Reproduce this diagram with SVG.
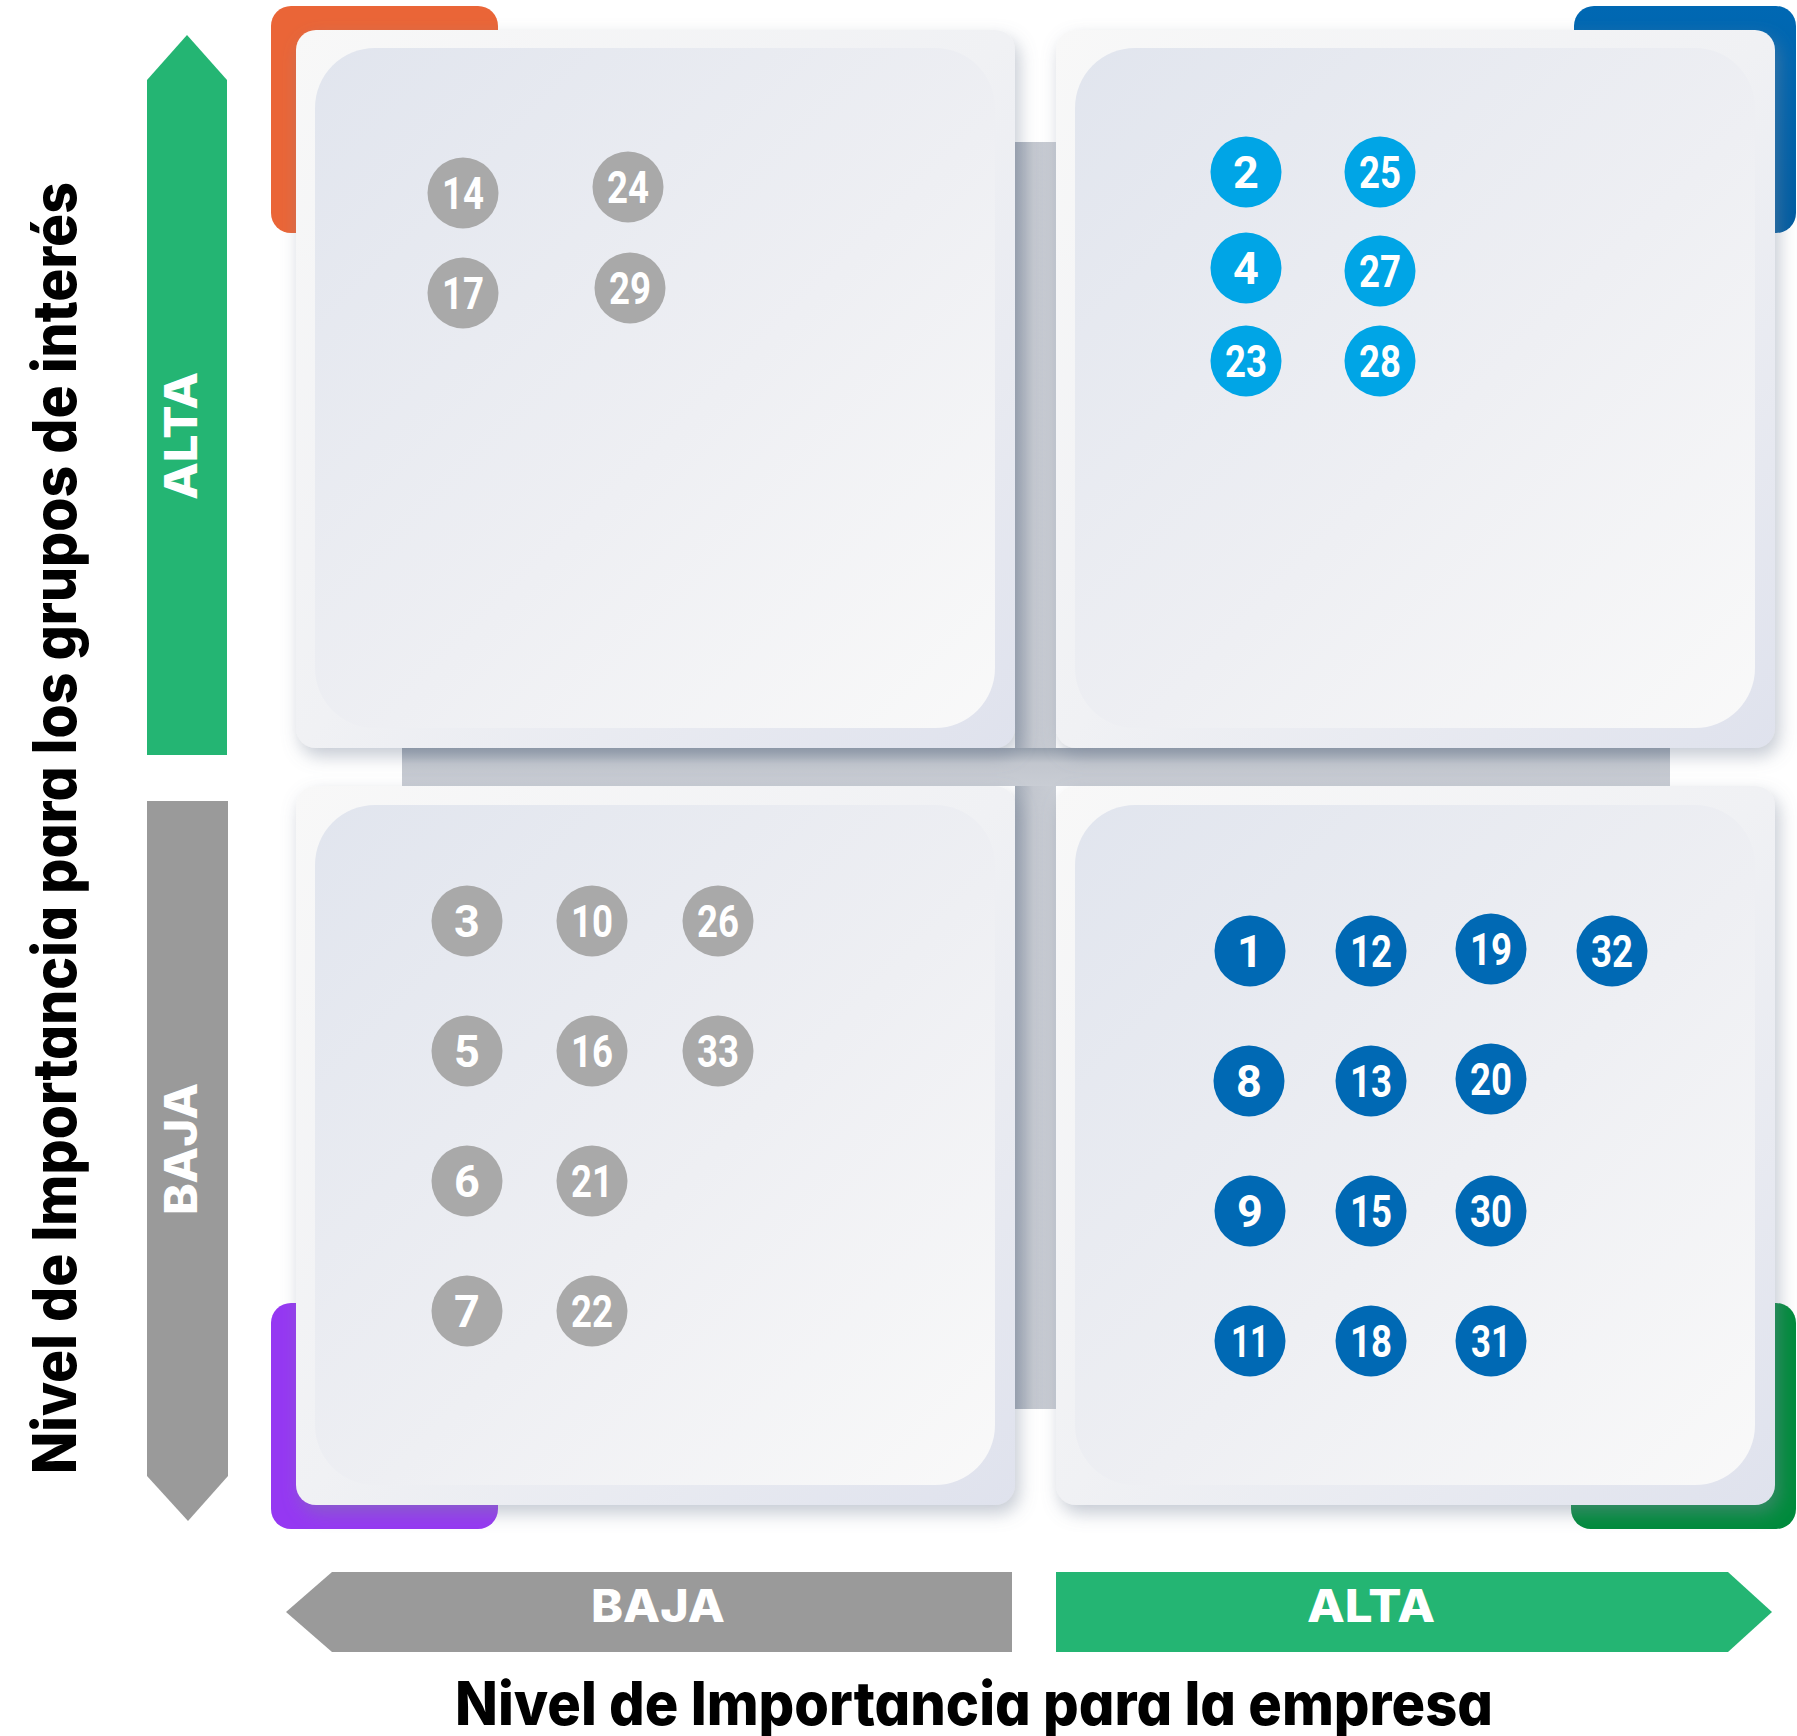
<svg xmlns="http://www.w3.org/2000/svg" width="1797" height="1736" viewBox="0 0 1797 1736">
<defs>
<style>
.card{fill:url(#cardG);filter:url(#sh)}
.panel{fill:url(#panelG)}
.num{font-family:Roboto,"Liberation Sans",sans-serif;font-weight:700;font-size:45px;fill:#fff;text-anchor:middle}
.g circle{fill:#a9a9a9}
.lb circle{fill:#00a5e6}
.db circle{fill:#0069b4}
.lvl{font-family:Inter,"Liberation Sans",sans-serif;font-weight:800;font-size:45px;fill:#fff;text-anchor:middle}
.title{font-family:Inter,"Liberation Sans",sans-serif;font-weight:800;font-size:60px;fill:#000;font-feature-settings:"cv11"}
</style>
<linearGradient id="cardG" x1="0" y1="0" x2="1" y2="1">
<stop offset="0" stop-color="#f8f8f8"/><stop offset="0.5" stop-color="#f0f1f4"/><stop offset="1" stop-color="#dfe2ed"/>
</linearGradient>
<linearGradient id="panelG" x1="0" y1="0" x2="1" y2="1">
<stop offset="0" stop-color="#e1e5ee"/><stop offset="0.55" stop-color="#eeeff3"/><stop offset="1" stop-color="#f9f9f9"/>
</linearGradient>
<linearGradient id="vbar" x1="0" y1="0" x2="1" y2="0">
<stop offset="0" stop-color="#a2aab6"/><stop offset="0.45" stop-color="#c3c7cf"/><stop offset="1" stop-color="#c9cdd4"/>
</linearGradient>
<linearGradient id="hbar" x1="0" y1="0" x2="0" y2="1">
<stop offset="0" stop-color="#97a0ad"/><stop offset="0.4" stop-color="#c2c6ce"/><stop offset="1" stop-color="#c9cdd4"/>
</linearGradient>
<linearGradient id="blueG" x1="0" y1="0" x2="0" y2="1">
<stop offset="0" stop-color="#0068b3"/><stop offset="1" stop-color="#005ba0"/>
</linearGradient>
<filter id="sh" x="-10%" y="-10%" width="125%" height="125%">
<feDropShadow dx="4" dy="8" stdDeviation="9" flood-color="#7d879c" flood-opacity="0.45"/>
</filter>
</defs>
<rect width="1797" height="1736" fill="#fff"/>

<g id="brackets">
<rect x="271" y="6" width="227" height="227" rx="20" fill="#ea6537"/>
<rect x="1574" y="6" width="222" height="227" rx="20" fill="url(#blueG)"/>
<rect x="271" y="1303" width="227" height="226" rx="20" fill="#9538f2"/>
<rect x="1571" y="1303" width="225" height="226" rx="20" fill="#008a3c"/>
</g>

<g id="bars">
<rect x="1015" y="142" width="41" height="1267" fill="url(#vbar)"/>
<rect x="402" y="748" width="1268" height="38" fill="url(#hbar)"/>
</g>

<g id="quadrant-tl">
<rect class="card" x="296" y="30" width="719" height="718" rx="20"/>
<rect class="panel" x="315" y="48" width="680" height="680" rx="60"/>
</g>
<g id="quadrant-tr">
<rect class="card" x="1056" y="30" width="719" height="718" rx="20"/>
<rect class="panel" x="1075" y="48" width="680" height="680" rx="60"/>
</g>
<g id="quadrant-bl">
<rect class="card" x="296" y="786" width="719" height="719" rx="20"/>
<rect class="panel" x="315" y="805" width="680" height="680" rx="60"/>
</g>
<g id="quadrant-br">
<rect class="card" x="1056" y="786" width="719" height="719" rx="20"/>
<rect class="panel" x="1075" y="805" width="680" height="680" rx="60"/>
</g>

<g id="nodes-tl" class="g">
<g id="n14"><circle cx="463" cy="193" r="35.5"/><text class="num" x="463" y="209" textLength="42" lengthAdjust="spacingAndGlyphs">14</text></g>
<g id="n17"><circle cx="463" cy="293" r="35.5"/><text class="num" x="463" y="309" textLength="42" lengthAdjust="spacingAndGlyphs">17</text></g>
<g id="n24"><circle cx="628" cy="187" r="35.5"/><text class="num" x="628" y="203" textLength="42" lengthAdjust="spacingAndGlyphs">24</text></g>
<g id="n29"><circle cx="630" cy="288" r="35.5"/><text class="num" x="630" y="304" textLength="42" lengthAdjust="spacingAndGlyphs">29</text></g>
</g>

<g id="nodes-tr" class="lb">
<g id="n2"><circle cx="1246" cy="172" r="35.5"/><text class="num" x="1246" y="188">2</text></g>
<g id="n25"><circle cx="1380" cy="172" r="35.5"/><text class="num" x="1380" y="188" textLength="42" lengthAdjust="spacingAndGlyphs">25</text></g>
<g id="n4"><circle cx="1246" cy="268" r="35.5"/><text class="num" x="1246" y="284">4</text></g>
<g id="n27"><circle cx="1380" cy="271" r="35.5"/><text class="num" x="1380" y="287" textLength="42" lengthAdjust="spacingAndGlyphs">27</text></g>
<g id="n23"><circle cx="1246" cy="361" r="35.5"/><text class="num" x="1246" y="377" textLength="42" lengthAdjust="spacingAndGlyphs">23</text></g>
<g id="n28"><circle cx="1380" cy="361" r="35.5"/><text class="num" x="1380" y="377" textLength="42" lengthAdjust="spacingAndGlyphs">28</text></g>
</g>

<g id="nodes-bl" class="g">
<g id="n3"><circle cx="467" cy="921" r="35.5"/><text class="num" x="467" y="937">3</text></g>
<g id="n10"><circle cx="592" cy="921" r="35.5"/><text class="num" x="592" y="937" textLength="42" lengthAdjust="spacingAndGlyphs">10</text></g>
<g id="n26"><circle cx="718" cy="921" r="35.5"/><text class="num" x="718" y="937" textLength="42" lengthAdjust="spacingAndGlyphs">26</text></g>
<g id="n5"><circle cx="467" cy="1051" r="35.5"/><text class="num" x="467" y="1067">5</text></g>
<g id="n16"><circle cx="592" cy="1051" r="35.5"/><text class="num" x="592" y="1067" textLength="42" lengthAdjust="spacingAndGlyphs">16</text></g>
<g id="n33"><circle cx="718" cy="1051" r="35.5"/><text class="num" x="718" y="1067" textLength="42" lengthAdjust="spacingAndGlyphs">33</text></g>
<g id="n6"><circle cx="467" cy="1181" r="35.5"/><text class="num" x="467" y="1197">6</text></g>
<g id="n21"><circle cx="592" cy="1181" r="35.5"/><text class="num" x="592" y="1197" textLength="42" lengthAdjust="spacingAndGlyphs">21</text></g>
<g id="n7"><circle cx="467" cy="1311" r="35.5"/><text class="num" x="467" y="1327">7</text></g>
<g id="n22"><circle cx="592" cy="1311" r="35.5"/><text class="num" x="592" y="1327" textLength="42" lengthAdjust="spacingAndGlyphs">22</text></g>
</g>

<g id="nodes-br" class="db">
<g id="n1"><circle cx="1250" cy="951" r="35.5"/><text class="num" x="1250" y="967">1</text></g>
<g id="n12"><circle cx="1371" cy="951" r="35.5"/><text class="num" x="1371" y="967" textLength="42" lengthAdjust="spacingAndGlyphs">12</text></g>
<g id="n19"><circle cx="1491" cy="949" r="35.5"/><text class="num" x="1491" y="965" textLength="42" lengthAdjust="spacingAndGlyphs">19</text></g>
<g id="n32"><circle cx="1612" cy="951" r="35.5"/><text class="num" x="1612" y="967" textLength="42" lengthAdjust="spacingAndGlyphs">32</text></g>
<g id="n8"><circle cx="1249" cy="1081" r="35.5"/><text class="num" x="1249" y="1097">8</text></g>
<g id="n13"><circle cx="1371" cy="1081" r="35.5"/><text class="num" x="1371" y="1097" textLength="42" lengthAdjust="spacingAndGlyphs">13</text></g>
<g id="n20"><circle cx="1491" cy="1079" r="35.5"/><text class="num" x="1491" y="1095" textLength="42" lengthAdjust="spacingAndGlyphs">20</text></g>
<g id="n9"><circle cx="1250" cy="1211" r="35.5"/><text class="num" x="1250" y="1227">9</text></g>
<g id="n15"><circle cx="1371" cy="1211" r="35.5"/><text class="num" x="1371" y="1227" textLength="42" lengthAdjust="spacingAndGlyphs">15</text></g>
<g id="n30"><circle cx="1491" cy="1211" r="35.5"/><text class="num" x="1491" y="1227" textLength="42" lengthAdjust="spacingAndGlyphs">30</text></g>
<g id="n11"><circle cx="1250" cy="1341" r="35.5"/><text class="num" x="1250" y="1357" textLength="38" lengthAdjust="spacingAndGlyphs">11</text></g>
<g id="n18"><circle cx="1371" cy="1341" r="35.5"/><text class="num" x="1371" y="1357" textLength="42" lengthAdjust="spacingAndGlyphs">18</text></g>
<g id="n31"><circle cx="1491" cy="1341" r="35.5"/><text class="num" x="1491" y="1357" textLength="40" lengthAdjust="spacingAndGlyphs">31</text></g>
</g>

<g id="connectors">
<g id="axis-y-alta">
<polygon points="147,80 187,35 227,80 227,755 147,755" fill="#24b573"/>
<text class="lvl" transform="translate(197,436) rotate(-90)" textLength="128" lengthAdjust="spacingAndGlyphs">ALTA</text>
</g>
<g id="axis-y-baja">
<polygon points="147,801 228,801 228,1476 188,1521 147,1476" fill="#9a9a9a"/>
<text class="lvl" transform="translate(197,1149) rotate(-90)" textLength="132" lengthAdjust="spacingAndGlyphs">BAJA</text>
</g>
<g id="axis-x-baja">
<polygon points="286,1612 332,1572 1012,1572 1012,1652 332,1652" fill="#9a9a9a"/>
<text class="lvl" x="658" y="1622" textLength="134" lengthAdjust="spacingAndGlyphs">BAJA</text>
</g>
<g id="axis-x-alta">
<polygon points="1056,1572 1728,1572 1772,1612 1728,1652 1056,1652" fill="#24b573"/>
<text class="lvl" x="1371" y="1622" textLength="128" lengthAdjust="spacingAndGlyphs">ALTA</text>
</g>
</g>

<g id="titles">
<text class="title" transform="translate(76,1474) rotate(-90)" textLength="1292" lengthAdjust="spacingAndGlyphs">Nivel de Importancia para los grupos de interés</text>
<text class="title" x="455" y="1725" textLength="1038" lengthAdjust="spacingAndGlyphs">Nivel de Importancia para la empresa</text>
</g>
</svg>
